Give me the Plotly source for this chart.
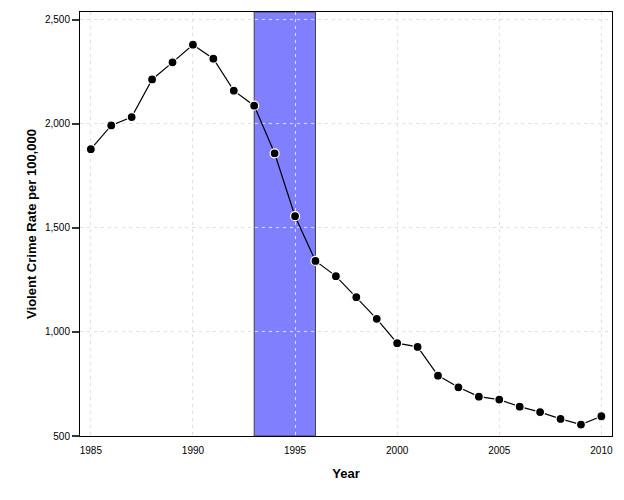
import plotly.graph_objects as go

years = list(range(1985, 2011))
rates = [1878, 1992, 2032, 2213, 2295, 2380, 2313, 2159, 2087, 1858, 1556, 1341,
         1268, 1167, 1063, 946, 928, 790, 734, 689, 675, 641, 615, 582, 555, 595]
band_start = 1993
band_end = 1996
x_ticks = [1985, 1990, 1995, 2000, 2005, 2010]
y_ticks = [500, 1000, 1500, 2000, 2500]
y_tick_labels = ["500", "1,000", "1,500", "2,000", "2,500"]

fig = go.Figure()
fig.add_shape(type="rect", xref="x", yref="paper", x0=band_start, x1=band_end, y0=0, y1=1,
              fillcolor="#8080ff", line=dict(color="#404050", width=1), layer="between")
fig.add_trace(go.Scatter(
    x=years, y=rates, mode="lines+markers",
    line=dict(color="black", width=1.2),
    marker=dict(size=9, color="black", line=dict(color="white", width=1.2)),
    showlegend=False))

fig.update_layout(
    width=624, height=500,
    margin=dict(l=80, r=12, t=12, b=64),
    paper_bgcolor="white", plot_bgcolor="white",
    font=dict(family="Liberation Sans", size=10, color="black"),
)
fig.update_xaxes(
    range=[1984.47, 2010.52], tickvals=x_ticks, ticks="", ticklabelstandoff=5,
    showline=True, linecolor="black", linewidth=1, mirror=True,
    showgrid=True, gridcolor="#e0e0e0", griddash="3px,4px", gridwidth=1,
    zeroline=False,
    title=dict(text="Year", font=dict(size=13, weight="bold"), standoff=13),
)
fig.update_yaxes(
    range=[500, 2537], tickvals=y_ticks, ticktext=y_tick_labels,
    ticks="outside", ticklen=7, tickwidth=2, tickcolor="#333333",
    showline=True, linecolor="black", linewidth=1, mirror=True,
    showgrid=True, gridcolor="#e0e0e0", griddash="3px,4px", gridwidth=1,
    zeroline=False,
    title=dict(text="Violent Crime Rate per 100,000", font=dict(size=13, weight="bold"), standoff=5),
)

fig.write_html("out.html", config={"displayModeBar": False},
               post_script="document.body.style.margin='0';document.body.style.padding='0';")
